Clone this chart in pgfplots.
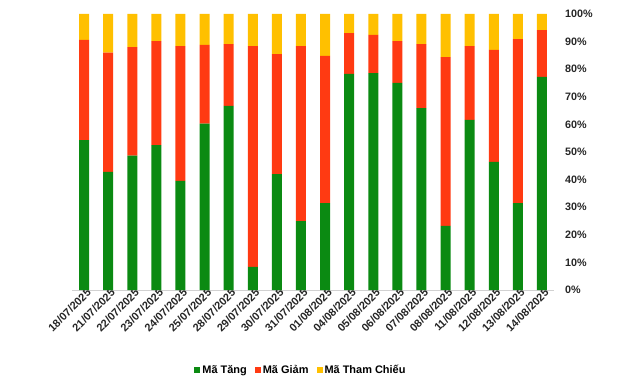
\documentclass[border=0pt]{standalone}
\usepackage{pgfplots}
\pgfplotsset{compat=1.18}
\usepackage{pgfplotstable}
\usepackage{fontspec}
\setmainfont{Liberation Sans}
\definecolor{cG}{RGB}{11,138,18}
\definecolor{cR}{RGB}{255,58,18}
\definecolor{cY}{RGB}{255,192,0}
\pgfplotstableread{
x g r y
0 54.3 36.3 9.4
1 42.8 43.2 14.0
2 48.7 39.3 12.0
3 52.5 37.7 9.8
4 39.5 48.9 11.6
5 60.3 28.5 11.2
6 66.7 22.4 10.9
7 8.4 80.0 11.6
8 42.0 43.5 14.5
9 25.0 63.4 11.6
10 31.5 53.3 15.2
11 78.3 14.8 6.9
12 78.6 13.8 7.6
13 75.0 15.2 9.8
14 65.9 23.2 10.9
15 23.2 61.2 15.6
16 61.6 26.8 11.6
17 46.4 40.6 13.0
18 31.5 59.4 9.1
19 77.2 17.0 5.8
}\data
\begin{document}
\begin{tikzpicture}[x=1bp,y=1bp]
\path[use as bounding box] (0,0) rectangle (640,378);
\begin{axis}[
  at={(72bp,88bp)}, anchor=south west,
  scale only axis, width=482bp, height=276bp,
  ybar stacked, bar width=10bp,
  xmin=-0.5, xmax=19.5, ymin=0, ymax=100,
  xtick=data,
  xticklabels={18/07/2025,21/07/2025,22/07/2025,23/07/2025,24/07/2025,25/07/2025,28/07/2025,29/07/2025,30/07/2025,31/07/2025,01/08/2025,04/08/2025,05/08/2025,06/08/2025,07/08/2025,08/08/2025,11/08/2025,12/08/2025,13/08/2025,14/08/2025},
  ytick={0,10,...,100},
  yticklabel={\pgfmathprintnumber{\tick}\%},
  /pgf/number format/assume math mode=true,
  axis x line*=bottom, axis y line*=right,
  x axis line style={draw=black!18, line width=0.8pt},
  y axis line style={draw=none},
  major tick length=0pt,
  tick label style={font=\fontsize{10.8}{12}\selectfont\bfseries, text=black!85},
  yticklabel style={anchor=west, inner sep=0pt, xshift=11bp},
  xticklabel style={rotate=45, anchor=east, inner sep=0pt, xshift=3bp, yshift=-4bp, font=\fontsize{11}{12}\selectfont\bfseries},
  legend style={at={(0.475,-0.29)}, anchor=center, draw=none, legend columns=3,
    font=\fontsize{11}{12}\selectfont\bfseries, /tikz/every even column/.append style={column sep=6bp}},
  legend image code/.code={\fill[#1] (0bp,-3bp) rectangle (6bp,3bp);},
]
\addplot[fill=cG, draw=none] table[x=x,y=g]{\data};
\addplot[fill=cR, draw=none] table[x=x,y=r]{\data};
\addplot[fill=cY, draw=none] table[x=x,y=y]{\data};
\legend{Mã Tăng,Mã Giảm,Mã Tham Chiếu}
\end{axis}
\end{tikzpicture}
\end{document}
